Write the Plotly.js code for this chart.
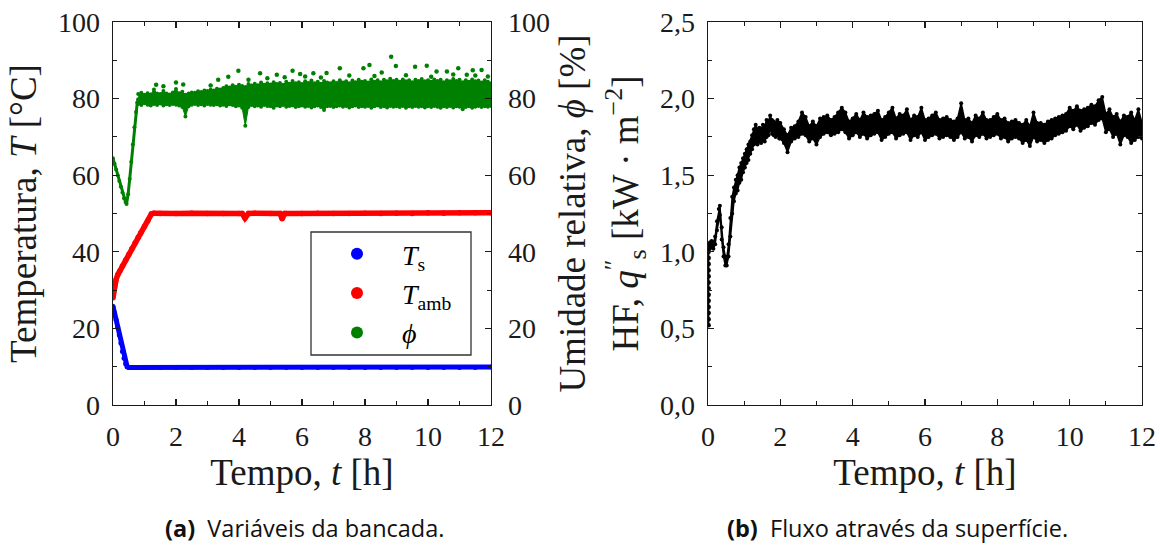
<!DOCTYPE html>
<html><head><meta charset="utf-8">
<script src="https://cdn.plot.ly/plotly-3.0.1.min.js"></script>
<style>html,body{margin:0;padding:0;background:#fff}#chart{width:1160px;height:546px}</style>
</head><body><div id="chart"></div>
<script>
// ---------- (a) bench variables ----------
const tsT = [0,0.05,0.1,0.15,0.2,0.25,0.3,0.35,0.4,0.45,0.5,1,1.5,2,2.5,3,3.5,4,4.5,5,5.5,6,6.5,7,7.5,8,8.5,9,9.5,10,10.5,11,11.5,12];
const tsV = [25.8,24.0,22.2,20.4,18.3,16.2,14.0,12.2,10.8,10.0,9.8,9.8,9.8,9.8,9.8,9.8,9.8,9.8,9.8,9.8,9.8,9.8,9.8,9.8,9.8,9.8,9.8,9.8,9.8,9.8,9.8,9.8,9.8,9.9];

const tambT = [0,0.05,0.1,0.15,0.21,0.3,0.4,0.51,0.6,0.7,0.8,0.88,1.0,1.1,1.22,1.3,1.5,2,2.5,3,3.5,4,4.1,4.19,4.3,4.5,5,5.3,5.37,5.45,5.5,6,6.5,7,7.5,8,8.5,9,9.5,10,10.5,11,11.5,12];
const tambV = [28,31,32.8,34,34.9,36.3,37.8,39.4,40.8,42.3,43.8,44.9,46.6,48,49.9,50.1,50,50,50.1,50,50,50,50,48.8,50,50.1,50,50,48.6,50,50,50,50.1,50,50,50.1,50,50.1,50,50.2,50.1,50.2,50.2,50.2];

// humidity: start transient, then dense band (lower / upper edge of the point cloud), plus scattered points
const phiEarlyT = [0,0.05,0.1,0.15,0.2,0.25,0.3,0.35,0.4,0.43,0.48,0.53,0.58,0.63,0.68,0.73,0.77,0.8];
const phiEarlyV = [64.4,63,61.5,60,58.5,57,55.5,54,53,52.5,55,59,63.5,68,72.5,76.5,79,79.8];
const phiBandT = [0.8,0.9,1.0,1.1,1.2,1.3,1.4,1.5,1.6,1.7,1.8,1.9,2.0,2.1,2.2,2.3,2.4,2.5,2.6,2.7,2.8,2.9,3.0,3.1,3.2,3.3,3.4,3.5,3.6,3.7,3.8,3.9,4.0,4.1,4.2,4.3,4.4,4.5,4.6,4.7,4.8,4.9,5.0,5.1,5.2,5.3,5.4,5.5,5.6,5.7,5.8,5.9,6.0,6.1,6.2,6.3,6.4,6.5,6.6,6.7,6.8,6.9,7.0,7.1,7.2,7.3,7.4,7.5,7.6,7.7,7.8,7.9,8.0,8.1,8.2,8.3,8.4,8.5,8.6,8.7,8.8,8.9,9.0,9.1,9.2,9.3,9.4,9.5,9.6,9.7,9.8,9.9,10.0,10.1,10.2,10.3,10.4,10.5,10.6,10.7,10.8,10.9,11.0,11.1,11.2,11.3,11.4,11.5,11.6,11.7,11.8,11.9,12.0];
const phiLow = [78.6,78.3,78.8,78.4,78.2,78.6,78.3,78.7,78.2,78.5,
  78.3,78.6,78.4,78.2,77.8,75.3,78.0,78.4,78.6,78.3,
  78.5,78.2,78.6,78.4,78.3,78.5,78.2,78.4,78.1,78.5,
  78.3,78.0,78.2,77.6,72.9,77.8,78.3,78.0,78.2,77.9,
  78.3,78.1,78.0,77.6,78.2,78.0,78.3,77.9,78.1,78.2,
  77.8,78.0,78.2,77.9,78.1,77.7,78.0,78.2,77.8,77.0,
  78.0,78.1,77.8,78.0,78.2,77.9,78.1,77.7,78.0,78.2,
  77.8,78.0,77.9,78.1,77.6,78.0,78.2,77.8,78.0,77.7,
  78.1,77.9,78.0,77.8,78.1,77.6,78.0,77.8,78.1,77.9,
  78.0,77.7,78.0,77.8,78.1,77.9,77.6,78.0,77.8,78.1,
  77.7,78.0,77.9,77.2,77.8,78.0,77.6,77.9,78.1,77.8,
  78.0,77.9,78.1];
const phiHigh = [81.2,81.5,81.0,81.4,81.1,82.4,81.3,81.2,82.0,81.3,
  81.1,81.6,82.5,81.4,81.8,81.0,81.3,81.6,81.5,81.9,
  81.7,82.1,82.0,82.3,82.1,82.6,82.4,82.8,83.2,82.9,
  83.5,83.1,83.6,83.3,83.0,83.8,83.4,83.9,83.5,84.2,
  83.6,84.0,83.7,84.3,83.8,84.1,83.6,84.4,83.9,84.6,
  84.0,84.3,83.8,84.5,84.1,84.7,84.0,84.4,83.9,84.6,
  84.2,84.0,84.5,84.1,84.8,84.2,84.5,84.0,84.7,84.3,
  84.9,84.4,84.6,84.2,85.0,84.4,84.8,84.3,84.9,84.5,
  85.2,84.6,84.9,84.4,85.0,84.5,84.8,84.3,84.9,84.6,
  85.1,84.5,84.8,84.4,85.0,84.6,84.9,84.3,84.8,84.5,
  85.1,84.6,84.9,84.3,84.8,84.4,85.0,84.5,84.7,84.2,
  84.8,84.4,84.0];
const phiOutT = [1.37,1.6,2.0,2.23,3.34,3.66,3.98,4.67,5.2,5.7,5.94,6.36,6.78,7.2,7.95,8.14,8.53,8.83,8.98,9.59,9.96,10.27,10.6,10.96,11.23,11.42,11.7,3.1,4.3,4.9,5.45,6.1,6.6,7.5,8.3,9.3,10.1,10.8,11.5,11.9];
const phiOutV = [83.6,83.2,84.2,83.7,84.9,85.7,87.3,86.6,86.2,87.3,86.4,86.6,86.7,87.9,87.9,88.8,86.8,90.9,88.5,88.3,88.6,87.1,87.1,87.9,86.2,87.4,87.5,83.4,84.9,85.3,85.6,85.8,85.5,86.0,85.9,86.1,85.7,86.3,86.0,85.8];

// ---------- (b) heat flux: start dots, then lower / upper edge of the noisy trace ----------
const hfDotsT = [0.02,0.02,0.02,0.02,0.02,0.02,0.02,0.02,0.02,0.02,0.02,0.02,0.02,0.05];
const hfDotsV = [0.52,0.56,0.60,0.64,0.68,0.72,0.76,0.80,0.84,0.88,0.92,0.96,1.00,1.04];
const hfT = [0.05,0.1,0.15,0.2,0.25,0.3,0.33,0.38,0.43,0.48,0.52,0.57,0.62,0.67,0.72,0.77,0.82,0.87,0.92,0.97,1.02,1.07,1.12,1.17,1.22,1.27,1.32,1.37,1.42,1.47,1.52,1.57,1.62,1.67,1.72,1.77,1.82,1.87,1.92,1.97,
  2.0,2.1,2.2,2.3,2.4,2.5,2.6,2.7,2.8,2.9,3.0,3.1,3.2,3.3,3.4,3.5,3.6,3.7,3.8,3.9,4.0,4.1,4.2,4.3,4.4,4.5,4.6,4.7,4.8,4.9,5.0,5.1,5.2,5.3,5.4,5.5,5.6,5.7,5.8,5.9,6.0,6.1,6.2,6.3,6.4,6.5,6.6,6.7,6.8,6.9,7.0,7.1,7.2,7.3,7.4,7.5,7.6,7.7,7.8,7.9,8.0,8.1,8.2,8.3,8.4,8.5,8.6,8.7,8.8,8.9,9.0,9.1,9.2,9.3,9.4,9.5,9.6,9.7,9.8,9.9,10.0,10.1,10.2,10.3,10.4,10.5,10.6,10.7,10.8,10.9,11.0,11.1,11.2,11.3,11.4,11.5,11.6,11.7,11.8,11.9,12.0];
const hfLow = [1.02,1.03,1.02,1.05,1.14,1.22,1.24,1.08,0.97,0.91,0.91,0.97,1.10,1.25,1.33,1.38,1.40,1.45,1.47,1.52,1.55,1.58,1.60,1.64,1.67,1.70,1.71,1.70,1.72,1.71,1.73,1.72,1.75,1.76,1.80,1.77,1.76,1.75,1.76,1.74,
  1.74,1.71,1.65,1.72,1.74,1.75,1.77,1.76,1.72,1.74,
  1.70,1.75,1.77,1.78,1.76,1.77,1.78,1.80,1.78,1.74,
  1.76,1.78,1.75,1.77,1.74,1.76,1.77,1.78,1.73,1.75,
  1.77,1.78,1.74,1.76,1.77,1.78,1.73,1.76,1.75,1.78,
  1.73,1.75,1.76,1.77,1.74,1.75,1.76,1.75,1.73,1.75,
  1.78,1.74,1.75,1.72,1.76,1.75,1.77,1.74,1.75,1.76,
  1.77,1.74,1.75,1.72,1.74,1.75,1.74,1.71,1.73,1.69,
  1.75,1.72,1.73,1.71,1.73,1.74,1.76,1.77,1.78,1.79,
  1.82,1.80,1.83,1.79,1.81,1.82,1.84,1.83,1.86,1.87,
  1.78,1.80,1.75,1.77,1.70,1.76,1.75,1.71,1.73,1.75,
  1.74];
const hfHigh = [1.06,1.07,1.06,1.10,1.20,1.28,1.30,1.16,1.03,0.97,0.96,1.05,1.22,1.36,1.42,1.47,1.50,1.55,1.58,1.61,1.64,1.67,1.70,1.72,1.76,1.80,1.83,1.80,1.81,1.80,1.83,1.82,1.86,1.85,1.89,1.86,1.85,1.84,1.86,1.84,
  1.84,1.80,1.76,1.81,1.82,1.85,1.91,1.88,1.82,1.85,
  1.82,1.87,1.88,1.89,1.86,1.88,1.91,1.94,1.91,1.85,
  1.87,1.90,1.86,1.91,1.88,1.89,1.90,1.92,1.86,1.88,
  1.91,1.94,1.87,1.90,1.89,1.93,1.86,1.89,1.88,1.94,
  1.86,1.87,1.89,1.91,1.86,1.87,1.88,1.86,1.85,1.87,
  1.97,1.86,1.87,1.84,1.89,1.87,1.91,1.86,1.86,1.88,
  1.90,1.86,1.87,1.84,1.85,1.86,1.84,1.83,1.86,1.82,
  1.91,1.84,1.84,1.83,1.85,1.86,1.87,1.88,1.89,1.90,
  1.94,1.92,1.95,1.92,1.93,1.94,1.96,1.95,1.99,2.01,
  1.90,1.93,1.88,1.90,1.85,1.89,1.88,1.91,1.86,1.93,
  1.84];

const xTicks = [0,2,4,6,8,10,12];

// ---------- build ----------
const serif = 'Liberation Serif';
const ink = '#1a1a1a';
const BLUE = '#0000ff', RED = '#ff0000', GREEN = '#008000';

const traces = [
  {x: tsT, y: tsV, mode: 'lines', line: {color: BLUE, width: 5}, showlegend: false, hoverinfo: 'skip', xaxis: 'x', yaxis: 'y'},
  {x: tambT, y: tambV, mode: 'lines', line: {color: RED, width: 5.5}, showlegend: false, hoverinfo: 'skip', xaxis: 'x', yaxis: 'y'},
  {x: phiEarlyT, y: phiEarlyV, mode: 'lines+markers', line: {color: GREEN, width: 3}, marker: {color: GREEN, size: 4}, showlegend: false, hoverinfo: 'skip', xaxis: 'x', yaxis: 'y2'},
  {x: phiBandT, y: phiLow, mode: 'lines+markers', line: {color: GREEN, width: 1}, marker: {color: GREEN, size: 4}, showlegend: false, hoverinfo: 'skip', xaxis: 'x', yaxis: 'y2'},
  {x: phiBandT, y: phiHigh, mode: 'lines+markers', fill: 'tonexty', fillcolor: GREEN, line: {color: GREEN, width: 1}, marker: {color: GREEN, size: 4}, showlegend: false, hoverinfo: 'skip', xaxis: 'x', yaxis: 'y2'},
  {x: tsT, y: tsV, mode: 'markers', name: '<i>T</i><sub>s</sub>', marker: {color: BLUE, size: 5}, xaxis: 'x', yaxis: 'y'},
  {x: tambT, y: tambV, mode: 'markers', name: '<i>T</i><sub>amb</sub>', marker: {color: RED, size: 5.5}, xaxis: 'x', yaxis: 'y'},
  {x: phiOutT, y: phiOutV, mode: 'markers', name: '<i>ϕ</i>', marker: {color: GREEN, size: 4.5}, xaxis: 'x', yaxis: 'y2'},
  {x: hfDotsT, y: hfDotsV, mode: 'lines+markers', showlegend: false, line: {color: '#000', width: 1.5}, marker: {color: '#000', size: 4.5}, xaxis: 'x2', yaxis: 'y3'},
  {x: hfT, y: hfLow, mode: 'lines+markers', showlegend: false, line: {color: '#000', width: 1.5}, marker: {color: '#000', size: 4}, xaxis: 'x2', yaxis: 'y3'},
  {x: hfT, y: hfHigh, mode: 'lines+markers', fill: 'tonexty', fillcolor: '#000', showlegend: false, line: {color: '#000', width: 1.5}, marker: {color: '#000', size: 4}, xaxis: 'x2', yaxis: 'y3'}
];

function axisBase() {
  return {
    showgrid: false, zeroline: false, showline: true, linecolor: ink, linewidth: 1.3,
    ticks: 'inside', ticklen: 6, tickwidth: 1.1, tickcolor: ink,
    tickfont: {family: serif, size: 28, color: ink},
    automargin: false
  };
}
const dom = [0.2582, 0.9597];
const titleFont = {family: serif, size: 37, color: ink};

const xa = Object.assign(axisBase(), {domain: [0.0974, 0.4233], range: [0, 12], anchor: 'y', tickvals: xTicks, mirror: 'ticks',
  minor: {dtick: 1, ticks: 'inside', ticklen: 4, tickcolor: ink}, ticklabelstandoff: 6,
  title: {text: 'Tempo, <i>t</i> [h]', font: titleFont, standoff: 8}});
const ya = Object.assign(axisBase(), {domain: dom, range: [0, 100], anchor: 'x', dtick: 20, tick0: 0,
  minor: {dtick: 10, ticks: 'inside', ticklen: 4, tickcolor: ink}, ticklabelstandoff: 6,
  title: {text: 'Temperatura, <i>T</i> [°C]', font: titleFont, standoff: 10}});
const ya2 = Object.assign(axisBase(), {overlaying: 'y', side: 'right', range: [0, 100], anchor: 'x', dtick: 20, tick0: 0,
  minor: {dtick: 10, ticks: 'inside', ticklen: 4, tickcolor: ink}, ticklabelstandoff: 10,
  title: {text: 'Umidade relativa, <i>ϕ</i> [%]', font: titleFont, standoff: 10}});
const xb = Object.assign(axisBase(), {domain: [0.6103, 0.9845], range: [0, 12], anchor: 'y3', tickvals: xTicks, mirror: 'ticks',
  minor: {dtick: 1, ticks: 'inside', ticklen: 4, tickcolor: ink}, ticklabelstandoff: 6,
  title: {text: 'Tempo, <i>t</i> [h]', font: titleFont, standoff: 8}});
const yb = Object.assign(axisBase(), {domain: dom, range: [0, 2.5], anchor: 'x2', dtick: 0.5, tick0: 0, tickformat: '.1f', mirror: 'ticks',
  minor: {dtick: 0.25, ticks: 'inside', ticklen: 4, tickcolor: ink}, ticklabelstandoff: 6,
  title: {text: 'HF, <i>q</i><sup>″</sup><sub>s</sub> [kW · m<sup>−2</sup>]', font: titleFont, standoff: 10}});

const layout = {
  width: 1160, height: 546,
  margin: {l: 0, r: 0, t: 0, b: 0, pad: 0},
  paper_bgcolor: '#fff', plot_bgcolor: '#fff',
  separators: ',.',
  font: {family: serif, color: ink, size: 28},
  xaxis: xa, yaxis: ya, yaxis2: ya2, xaxis2: xb, yaxis3: yb,
  showlegend: true,
  legend: {
    x: 312/1160, y: (546-229)/546, xanchor: 'left', yanchor: 'top',
    bgcolor: 'rgba(255,255,255,0)', borderwidth: 0, traceorder: 'normal',
    font: {family: serif, size: 28, color: '#000'},
    itemwidth: 80, itemsizing: 'constant', tracegroupgap: 0
  },
  shapes: [
    {type: 'rect', xref: 'paper', yref: 'paper', x0: 311/1160, x1: 471/1160, y0: (546-355)/546, y1: (546-232)/546,
     line: {color: '#333', width: 1.3}, fillcolor: 'rgba(255,255,255,1)', layer: 'below'}
  ],
  annotations: [
    {xref: 'paper', yref: 'paper', x: 304/1160, y: (546-528)/546, xanchor: 'center', yanchor: 'middle', showarrow: false, borderpad: 0,
     text: '<b>(a)</b>  Variáveis da bancada.', font: {family: 'Open Sans', size: 23.5, color: '#111'}},
    {xref: 'paper', yref: 'paper', x: 897/1160, y: (546-528)/546, xanchor: 'center', yanchor: 'middle', showarrow: false, borderpad: 0,
     text: '<b>(b)</b>  Fluxo através da superfície.', font: {family: 'Open Sans', size: 23.5, color: '#111'}}
  ]
};

function serifTicks() {
  document.querySelectorAll('#chart .xaxislayer-above text, #chart .yaxislayer-above text').forEach(function (t) {
    t.style.fontFamily = '"Liberation Serif", "Times New Roman", serif';
  });
}
Plotly.newPlot('chart', traces, layout, {staticPlot: true, displayModeBar: false}).then(function () {
  serifTicks();
  setTimeout(serifTicks, 50);
});
</script></body></html>
